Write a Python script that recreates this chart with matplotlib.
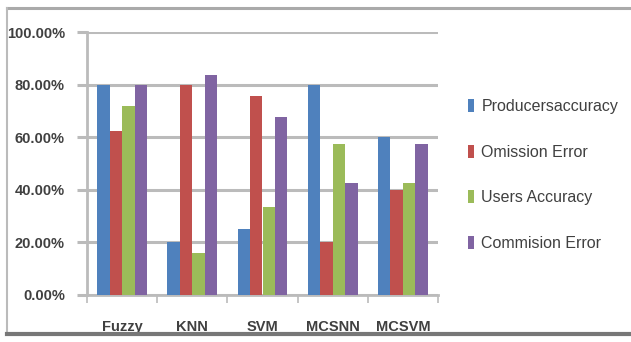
import matplotlib
matplotlib.use("Agg")
import matplotlib.pyplot as plt
from matplotlib.lines import Line2D
from matplotlib.patches import Patch
import numpy as np

categories = ["Fuzzy", "KNN", "SVM", "MCSNN", "MCSVM"]
series_names = ["Producersaccuracy", "Omission Error", "Users Accuracy", "Commision Error"]
producers_accuracy = [80.0, 20.0, 25.0, 80.0, 60.0]
omission_error = [62.5, 80.0, 75.5, 20.0, 40.0]
users_accuracy = [72.0, 16.0, 33.5, 57.5, 42.5]
commision_error = [80.0, 83.5, 67.5, 42.5, 57.5]
y_ticks = [0, 20, 40, 60, 80, 100]
y_tick_labels = ["0.00%", "20.00%", "40.00%", "60.00%", "80.00%", "100.00%"]

colors = ["#4F81BD", "#C0504D", "#9BBB59", "#8064A2"]
grid_c = "#BBBBBB"
text_c = "#404040"

plt.rcParams["font.family"] = ["Liberation Sans", "DejaVu Sans"]

fig = plt.figure(figsize=(6.31, 3.42), dpi=100)
ax = fig.add_axes([87 / 631, 1 - 295 / 342, (438 - 87) / 631, (295 - 32) / 342])

values = [producers_accuracy, omission_error, users_accuracy, commision_error]
x = np.arange(len(categories))
bw = 0.178
for i, (vals, c, name) in enumerate(zip(values, colors, series_names)):
    ax.bar(x + (i - 1.5) * bw, vals, width=bw, color=c, label=name, zorder=3)

ax.set_xlim(-0.5, len(categories) - 0.5)
ax.set_ylim(0, 100)
ax.set_yticks(y_ticks)
ax.set_yticklabels(y_tick_labels, fontsize=10.5, color=text_c, fontweight="bold")
ax.yaxis.grid(True, color=grid_c, linewidth=2.2, zorder=0)
ax.set_axisbelow(True)

# category boundary ticks and centred category labels
ax.set_xticks(np.arange(-0.5, len(categories), 1.0))
ax.set_xticklabels([])
ax.set_xticks(x, minor=True)
ax.set_xticklabels(categories, minor=True, fontsize=10.5, color=text_c, fontweight="bold")
ax.tick_params(axis="x", which="minor", length=0, pad=18)
ax.tick_params(axis="x", which="major", length=6, width=1.2, color=grid_c)
ax.tick_params(axis="y", length=7, width=2.2, color=grid_c, pad=9)

for s in ["top", "right"]:
    ax.spines[s].set_visible(False)
for s in ["left", "bottom"]:
    ax.spines[s].set_color(grid_c)
    ax.spines[s].set_linewidth(2.0)

handles = [Patch(facecolor=c, edgecolor="none") for c in colors]
leg = fig.legend(handles, series_names, loc="center left",
                 bbox_to_anchor=(454 / 631, 1 - 175 / 342), frameon=False,
                 fontsize=11.5, labelspacing=1.9, handlelength=0.37, handleheight=0.9,
                 handletextpad=0.45, labelcolor=text_c)

# outer chart frame
fig.add_artist(Line2D([7 / 631, 1.0], [1 - 8 / 342, 1 - 8 / 342], color="#AAAAAA", lw=2.2,
                      transform=fig.transFigure))
fig.add_artist(Line2D([7 / 631, 7 / 631], [1 - 8 / 342, 1 - 334 / 342], color="#BBBBBB", lw=1.5,
                      transform=fig.transFigure))
fig.add_artist(Line2D([7 / 631, 1.0], [1 - 334 / 342, 1 - 334 / 342], color="#777777", lw=3,
                      transform=fig.transFigure))

fig.savefig("out.png", dpi=100, facecolor="white")
